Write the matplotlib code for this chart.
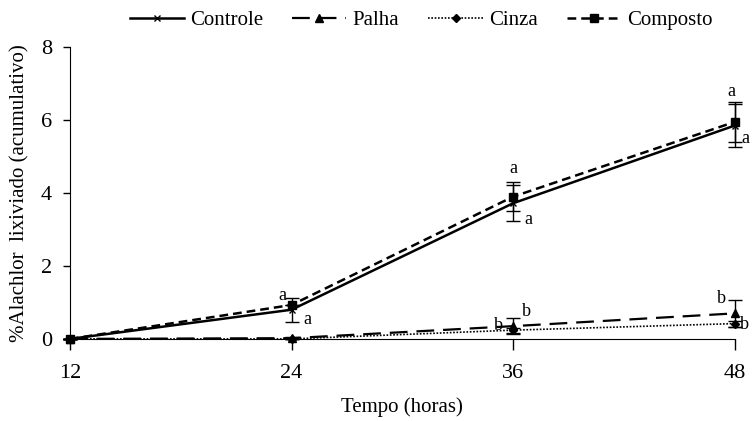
import matplotlib
matplotlib.use("Agg")
import matplotlib.pyplot as plt
from matplotlib.lines import Line2D

plt.rcParams['font.family'] = ['Liberation Serif', 'DejaVu Serif']

hours = [12, 24, 36, 48]
controle = [0.0, 0.80, 3.72, 5.85]
controle_err = [0.0, 0.33, 0.50, 0.60]
palha = [0.0, 0.02, 0.35, 0.70]
palha_err = [0.0, 0.02, 0.22, 0.37]
cinza = [0.0, 0.0, 0.24, 0.42]
cinza_err = [0.0, 0.0, 0.07, 0.08]
composto = [0.0, 0.93, 3.90, 5.95]
composto_err = [0.0, 0.0, 0.40, 0.55]
series_names = ['Controle', 'Palha', 'Cinza', 'Composto']

# (series value, x, label, pixel offset)
letters = [
    (composto, 1, 'a', (-9, 9)),
    (controle, 1, 'a', (16, -10)),
    (composto, 2, 'a', (0, 28)),
    (controle, 2, 'a', (15, -16)),
    (cinza, 2, 'b', (-15, 5)),
    (palha, 2, 'b', (13, 15)),
    (composto, 3, 'a', (-3, 30)),
    (controle, 3, 'a', (11, -13)),
    (palha, 3, 'b', (-13, 15)),
    (cinza, 3, 'b', (10, -1)),
]

fig = plt.figure(figsize=(7.52, 4.21), dpi=100)
ax = fig.add_axes([0.093, 0.195, 0.884, 0.693])

styles = [
    dict(linestyle='-', lw=1.8, marker='x', ms=5),
    dict(linestyle=(0, (8, 4)), lw=1.6, marker='^', ms=6),
    dict(linestyle=(0, (1, 1)), lw=1.2, marker='D', ms=4),
    dict(linestyle=(0, (3.5, 2)), lw=1.8, marker='s', ms=6),
]
data = [(controle, controle_err), (palha, palha_err), (cinza, cinza_err), (composto, composto_err)]

handles = []
for (vals, err), st, name in zip(data, styles, series_names):
    ax.errorbar(hours, vals, yerr=err, color='black', ecolor='black', elinewidth=1.0,
                capsize=5, capthick=1.0, clip_on=False, **st)
    handles.append(Line2D([], [], color='black', **st))

for series, i, txt, off in letters:
    ax.annotate(txt, xy=(hours[i], series[i]), xytext=off, textcoords='offset pixels',
                ha='center', va='center', fontsize=13, annotation_clip=False)

ax.set_xlim(12, 48)
ax.set_ylim(0, 8)
ax.set_xticks(hours)
ax.set_yticks([0, 2, 4, 6, 8])
ax.spines['top'].set_visible(False)
ax.spines['right'].set_visible(False)
ax.tick_params(axis='x', direction='out', length=8, width=1, labelsize=16, pad=10)
ax.tick_params(axis='y', direction='out', length=5, width=1, labelsize=16, pad=8)
ax.set_xlabel('Tempo (horas)', fontsize=15, labelpad=10)
ax.set_ylabel('%Alachlor  lixiviado (acumulativo)', fontsize=15, labelpad=8)

fig.legend(handles, series_names, loc='center', bbox_to_anchor=(0.56, 0.952), ncol=4, frameon=False,
           fontsize=15, handlelength=2.6, columnspacing=1.4, handletextpad=0.3)

fig.savefig('out.png', dpi=100)
